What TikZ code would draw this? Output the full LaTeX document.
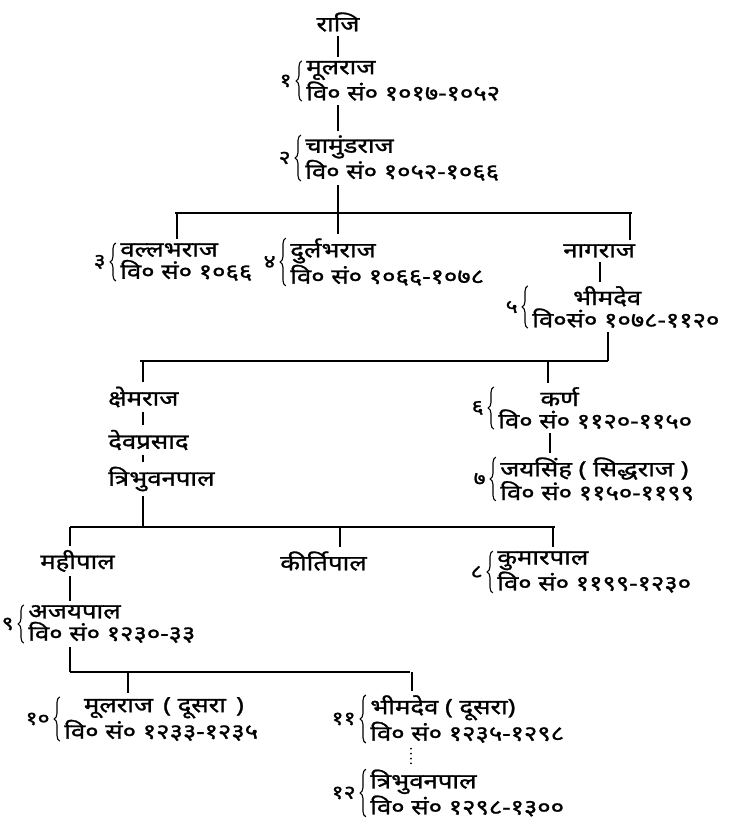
\documentclass[tikz,border=0pt]{standalone}
\usepackage{fontspec}
\usetikzlibrary{positioning,decorations.pathreplacing}
\newfontfamily\hindi[Script=Devanagari,FakeStretch=1.22,FakeBold=1.2]{Noto Sans}

\begin{document}
\begin{tikzpicture}[x=.25mm,y=-.25mm,
  entry/.style={font=\hindi\fontsize{15}{15.8}\selectfont,inner sep=0pt,align=left,anchor=west},
  numeral/.style={font=\hindi\fontsize{13.5}{15}\selectfont,inner sep=0pt},
  tick/.style={line width=.9pt,shorten <=3pt,shorten >=3pt},
  hbar/.style={line width=1.5pt},
  curly/.style={decorate,decoration={brace,amplitude=4pt},line width=.8pt}]
\fill[white](0,0)rectangle(738,826);
\useasboundingbox(0,0)rectangle(738,826);
% names
\node[entry,anchor=center](raji)at(338,22){राजि};
\node[entry](mulraj)at(306,81){मूलराज\\वि० सं० १०१७-१०५२};
\node[entry](chamund)at(305,158){चामुंडराज\\वि० सं० १०५२-१०६६};
\node[entry](vallabh)at(120,262){वल्लभराज\\वि० सं० १०६६};
\node[entry](durlabh)at(290,262){दुर्लभराज\\वि० सं० १०६६-१०७८};
\node[entry](nagraj)at(563,251){नागराज};
\node[entry](bhim)at(532,307){\hspace*{29pt}भीमदेव\\वि०सं० १०७८-११२०};
\node[entry](kshem)at(108,397){क्षेमराज};
\node[entry](devpr)at(108,440){देवप्रसाद};
\node[entry](tribh)at(108,479){त्रिभुवनपाल};
\node[entry](karna)at(498,408){\hspace*{30pt}कर्ण\\वि० सं० ११२०-११५०};
\node[entry](jaya)at(500,479){जयसिंह ( सिद्धराज )\\वि० सं० ११५०-११९९};
\node[entry](mahi)at(40,561){महीपाल};
\node[entry](kirti)at(280,561){कीर्तिपाल};
\node[entry](kumar)at(497,572){कुमारपाल\\वि० सं० ११९९-१२३०};
\node[entry](ajay)at(28,624){अजयपाल\\वि० सं० १२३०-३३};
\node[entry](mul2)at(64,719){\hspace*{14pt}मूलराज \,( दूसरा \,)\\वि० सं० १२३३-१२३५};
\node[entry](bhim2)at(370,719){भीमदेव ( दूसरा)\\वि० सं० १२३५-१२९८};
\node[entry](tribh2)at(370,793){त्रिभुवनपाल\\वि० सं० १२९८-१३००};
% braces and numbers
\foreach \b/\n in {mulraj/१,chamund/२,vallabh/३,durlabh/४,bhim/५,karna/६,jaya/७,kumar/८,ajay/९,mul2/१०,bhim2/११,tribh2/१२}{
\draw[curly]([xshift=-3pt]\b.south west)--([xshift=-3pt]\b.north west);
\node[numeral,left=10pt of \b](n-\b){\n};}
% lines
\coordinate(a1)at(338,0);
\coordinate(a2)at(600,0);
\coordinate(a3)at(608,0);
\coordinate(a4)at(143,0);
\coordinate(a5)at(550,0);
\coordinate(a6)at(70,0);
\coordinate(a7)at(411,0);
\coordinate(b1l)at(175,213);\coordinate(b1r)at(632,213);
\coordinate(b2l)at(140,361);\coordinate(b2r)at(608,361);
\coordinate(b3l)at(70,527);\coordinate(b3r)at(555,527);
\coordinate(b4l)at(70,672);\coordinate(b4r)at(410,672);
\foreach \l/\r in {b1l/b1r,b2l/b2r,b3l/b3r,b4l/b4r}
\draw[hbar](\l)--(\r);
\draw[tick](a1|-raji.south)--(a1|-mulraj.north);
\draw[tick](a1|-mulraj.south)--(a1|-chamund.north);
\draw[tick,shorten >=0pt](a1|-chamund.south)--(a1|-b1l);
\draw[tick](a2|-nagraj.south)--(a2|-bhim.north);
\draw[tick,shorten >=0pt](a3|-bhim.south)--(a3|-b2l);
\draw[tick](a4|-kshem.south)--(a4|-devpr.north);
\draw[tick](a4|-devpr.south)--(a4|-tribh.north);
\draw[tick,shorten >=0pt](a4|-tribh.south)--(a4|-b3l);
\draw[tick](a5|-karna.south)--(a5|-jaya.north);
\draw[tick](a6|-mahi.south)--(a6|-ajay.north);
\draw[tick,shorten >=0pt](a6|-ajay.south)--(a6|-b4l);
\draw[line width=1.4pt,line cap=round,dash pattern=on 0pt off 3.5pt,shorten <=4pt,shorten >=4pt](a7|-bhim2.south)--(a7|-tribh2.north);
% drops from the bars
\coordinate(d3)at(177,213);\coordinate(d4)at(338,213);\coordinate(dn)at(630,213);
\coordinate(dk)at(143,361);\coordinate(d6)at(548,361);
\coordinate(dm)at(70,527);\coordinate(dt)at(340,527);\coordinate(d8)at(553,527);
\coordinate(d10)at(128,672);\coordinate(d11)at(412,672);
\foreach \d/\b in {d3/vallabh,d4/durlabh,dn/nagraj,dk/kshem,d6/karna,dm/mahi,dt/kirti,d8/kumar,d10/mul2,d11/bhim2}
\draw[tick,shorten <=0pt](\d)--(\d|-\b.north);
\end{tikzpicture}
\end{document}
